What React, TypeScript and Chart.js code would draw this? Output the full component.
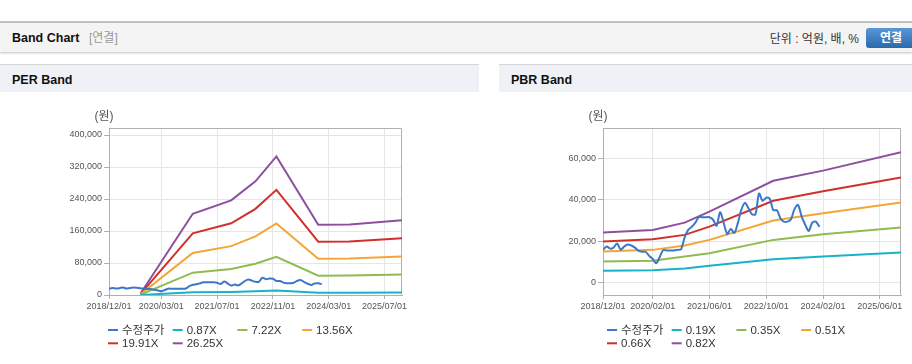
import React, { useEffect, useRef } from 'react';
import { Chart, registerables } from 'chart.js';

Chart.register(...registerables);

// ---------- data ----------
const unitLabel = '(원)';

const priceLabel = '수정주가';
const priceStart = '2018/12/01';
const priceValues = [
  15900, 17500, 16500, 17000, 19000, 16000, 17500, 18500, 18000, 17000, 15500, 15000,
  15000, 13000, 11500, 9500, 12500, 15800, 15600, 15600, 15600, 15900, 16200, 22000,
  25500, 27000, 29000, 31600, 31600, 31600, 31600, 30500, 27500, 34000, 29000, 23500,
  26000, 24000, 29000, 35000, 38500, 36000, 33000, 33000, 43000, 39500, 41000, 40500,
  35000, 35000, 31000, 29500, 29500, 30500, 35500, 37500, 32000, 28000, 25000, 29000,
  29500, 27000,
];

// PER band
const perBandLabels = ['0.87X', '7.22X', '13.56X', '19.91X', '26.25X'];
const perBandDates = ['2019/09/01', '2020/12/01', '2021/11/01', '2022/06/01', '2022/12/01', '2023/12/01', '2024/09/01', '2025/12/01'];
const per087 = [100, 6700, 7800, 9400, 11500, 5800, 5850, 6200];
const per722 = [800, 55800, 65000, 78100, 95300, 48400, 48600, 51400];
const per1356 = [1600, 104900, 122200, 146700, 179000, 90800, 91200, 96500];
const per1991 = [2300, 154000, 179400, 215400, 262800, 133300, 133900, 141600];
const per2625 = [3000, 203000, 236500, 284000, 346500, 175800, 176500, 186700];
const perXTicks = ['2018/12/01', '2020/03/01', '2021/07/01', '2022/11/01', '2024/03/01', '2025/07/01'];
const perYTicks = [0, 80000, 160000, 240000, 320000, 400000];

// PBR band
const pbrBandLabels = ['0.19X', '0.35X', '0.51X', '0.66X', '0.82X'];
const pbrBandDates = ['2018/12/01', '2020/02/01', '2020/11/01', '2021/06/01', '2022/12/01', '2024/02/01', '2025/12/01'];
const pbr019 = [5900, 6100, 7000, 8300, 11400, 12700, 14600];
const pbr035 = [10300, 10700, 12700, 14300, 20700, 23400, 26600];
const pbr051 = [15100, 15900, 18000, 20700, 30000, 33500, 38700];
const pbr066 = [19900, 21000, 23100, 27100, 39500, 44100, 50700];
const pbr082 = [24200, 25500, 29000, 34300, 49100, 54000, 62900];
const pbrXTicks = ['2018/12/01', '2020/02/01', '2021/06/01', '2022/10/01', '2024/02/01', '2025/06/01'];
const pbrYTicks = [0, 20000, 40000, 60000];

const xStart = '2018/12/01';
const xEnd = '2025/12/01';

const seriesColors = ['#3b78c8', '#19b2c9', '#8fbc4f', '#f4a535', '#d1302a', '#8d4f9f'];

// ---------- helpers ----------
const BASE = Date.UTC(2018, 11, 1);
const dayOf = (s: string) => {
  const [y, m, d] = s.split('/').map(Number);
  return (Date.UTC(y, m - 1, d) - BASE) / 86400000;
};
const monthDates = (start: string, n: number) => {
  const [y0, m0] = start.split('/').map(Number);
  const out: string[] = [];
  for (let i = 0; i < n; i++) {
    const t = m0 - 1 + i;
    const y = y0 + Math.floor(t / 12);
    const m = (t % 12) + 1;
    out.push(`${y}/${String(m).padStart(2, '0')}/01`);
  }
  return out;
};
const pts = (dates: string[], vals: number[]) => dates.map((d, i) => ({ x: dayOf(d), y: vals[i] }));

const FONT = "'Liberation Sans', 'Noto Sans CJK KR', sans-serif";

const decor = {
  id: 'decor',
  beforeDatasetsDraw(chart: any) {
    const { ctx, chartArea: a } = chart;
    ctx.save();
    ctx.strokeStyle = '#b0b0b0';
    ctx.lineWidth = 1;
    const l = Math.round(a.left) + 0.5;
    const r = Math.round(a.right) - 0.5;
    const t = Math.round(a.top) + 0.5;
    const b = Math.round(a.bottom) - 0.5;
    ctx.beginPath();
    ctx.moveTo(l, t);
    ctx.lineTo(r, t);
    ctx.lineTo(r, b);
    ctx.stroke();
    ctx.restore();
  },
  afterDraw(chart: any, _args: any, opts: any) {
    const { ctx, chartArea: a } = chart;
    ctx.save();
    ctx.font = `12px ${FONT}`;
    ctx.fillStyle = '#555';
    ctx.textAlign = 'center';
    ctx.textBaseline = 'middle';
    ctx.fillText(unitLabel, a.left - 5, a.top - 11);
    ctx.font = `11.5px ${FONT}`;
    ctx.textAlign = 'left';
    chart.data.datasets.forEach((ds: any, i: number) => {
      const col = i % 4;
      const row = Math.floor(i / 4);
      const x = opts.legendX + col * opts.colW;
      const y = opts.legendY + row * opts.rowH;
      ctx.fillStyle = ds.borderColor;
      ctx.fillRect(x, y - 1, 10, 2);
      ctx.fillStyle = '#333';
      ctx.fillText(ds.label, x + 14, y + 0.5);
    });
    ctx.restore();
  },
};

type Cfg = {
  bandLabels: string[];
  bandDates: string[];
  bands: number[][];
  xTicks: string[];
  yTicks: number[];
  yMin: number;
  yMax: number;
  yWidth: number;
  padRight: number;
  width: number;
};

function BandChart({ cfg }: { cfg: Cfg }) {
  const ref = useRef<HTMLCanvasElement>(null);
  useEffect(() => {
    if (!ref.current) return;
    const priceDates = monthDates(priceStart, priceValues.length);
    const datasets: any[] = [
      {
        label: priceLabel,
        data: pts(priceDates, priceValues),
        borderColor: seriesColors[0],
        backgroundColor: seriesColors[0],
        borderWidth: 2,
        tension: 0.3,
      },
      ...cfg.bandLabels.map((lab, i) => ({
        label: lab,
        data: pts(cfg.bandDates, cfg.bands[i]),
        borderColor: seriesColors[i + 1],
        backgroundColor: seriesColors[i + 1],
        borderWidth: 2,
        tension: 0,
      })),
    ];
    const xTickDays = cfg.xTicks.map(dayOf);
    const tickFont = { family: FONT, size: 9 };
    const chart = new Chart(ref.current, {
      type: 'line',
      data: { datasets },
      plugins: [decor as any],
      options: {
        responsive: false,
        animation: false,
        layout: { padding: { left: 0, right: cfg.padRight, top: 35, bottom: 49 } },
        elements: { point: { radius: 0 } },
        plugins: {
          legend: { display: false },
          tooltip: { enabled: false },
          decor: { legendX: 108, colW: 64.7, legendY: 237, rowH: 13.3 },
        } as any,
        scales: {
          x: {
            type: 'linear',
            min: dayOf(xStart),
            max: dayOf(xEnd),
            afterBuildTicks: (axis: any) => {
              axis.ticks = xTickDays.map((v) => ({ value: v }));
            },
            afterFit: (s: any) => {
              s.height = 20;
            },
            ticks: {
              autoSkip: false,
              maxRotation: 0,
              minRotation: 0,
              padding: 2,
              color: '#555',
              font: tickFont,
              callback: (v: any) => {
                const i = xTickDays.indexOf(Number(v));
                return i >= 0 ? cfg.xTicks[i] : '';
              },
            },
            grid: { color: '#e6e6e6', tickLength: 4, tickColor: '#b0b0b0' },
            border: { color: '#b0b0b0' },
          },
          y: {
            min: cfg.yMin,
            max: cfg.yMax,
            afterBuildTicks: (axis: any) => {
              axis.ticks = cfg.yTicks.map((v) => ({ value: v }));
            },
            afterFit: (s: any) => {
              s.width = cfg.yWidth;
            },
            ticks: {
              padding: 2,
              color: '#555',
              font: tickFont,
              callback: (v: any) => Number(v).toLocaleString('en-US'),
            },
            grid: { color: '#e6e6e6', tickLength: 5, tickColor: '#b0b0b0' },
            border: { color: '#b0b0b0' },
          },
        } as any,
      },
    });
    return () => chart.destroy();
  }, [cfg]);
  return <canvas ref={ref} width={cfg.width} height={271} style={{ display: 'block', width: cfg.width, height: 271 }} />;
}

const perCfg: Cfg = {
  bandLabels: perBandLabels,
  bandDates: perBandDates,
  bands: [per087, per722, per1356, per1991, per2625],
  xTicks: perXTicks,
  yTicks: perYTicks,
  yMin: 0,
  yMax: 417500,
  yWidth: 109,
  padRight: 77,
  width: 479,
};

const pbrCfg: Cfg = {
  bandLabels: pbrBandLabels,
  bandDates: pbrBandDates,
  bands: [pbr019, pbr035, pbr051, pbr066, pbr082],
  xTicks: pbrXTicks,
  yTicks: pbrYTicks,
  yMin: -5800,
  yMax: 74500,
  yWidth: 104,
  padRight: 11,
  width: 413,
};

const abs = (s: React.CSSProperties): React.CSSProperties => ({ position: 'absolute', ...s });

export default function App() {
  return (
    <div style={abs({ left: 0, top: 0, width: 912, height: 364, background: '#fff', overflow: 'hidden', fontFamily: FONT })}>
      <div style={abs({ left: 0, top: 21, width: 912, height: 2, background: '#c4c4c4' })} />
      <div style={abs({ left: 0, top: 23, width: 912, height: 29, background: '#f4f4f4', boxShadow: '0 1px 2px rgba(0,0,0,0.25)' })} />
      <div style={abs({ left: 12, top: 28, lineHeight: '20px', fontSize: 12.5, fontWeight: 'bold', color: '#111' })}>Band Chart</div>
      <div style={abs({ left: 89, top: 28, lineHeight: '20px', fontSize: 12, color: '#999' })}>[연결]</div>
      <div style={abs({ right: 53, top: 29, lineHeight: '20px', fontSize: 12, color: '#333' })}>단위 : 억원, 배, %</div>
      <div
        style={abs({
          left: 866,
          top: 28,
          width: 50,
          height: 20,
          borderRadius: 3,
          background: 'linear-gradient(#5797d8, #2b69ab)',
          color: '#fff',
          fontWeight: 'bold',
          fontSize: 12,
          lineHeight: '20px',
          textAlign: 'center',
        })}
      >
        연결
      </div>

      {/* PER panel */}
      <div style={abs({ left: 0, top: 64, width: 479, height: 1, background: '#d6d6d6' })} />
      <div style={abs({ left: 0, top: 65, width: 479, height: 27, background: '#eef2f7' })} />
      <div style={abs({ left: 12, top: 70, lineHeight: '20px', fontSize: 12.5, fontWeight: 'bold', color: '#111' })}>PER Band</div>
      <div style={abs({ left: 0, top: 93 })}>
        <BandChart cfg={perCfg} />
      </div>

      {/* PBR panel */}
      <div style={abs({ left: 499, top: 64, width: 413, height: 1, background: '#d6d6d6' })} />
      <div style={abs({ left: 499, top: 65, width: 413, height: 27, background: '#eef2f7' })} />
      <div style={abs({ left: 511, top: 70, lineHeight: '20px', fontSize: 12.5, fontWeight: 'bold', color: '#111' })}>PBR Band</div>
      <div style={abs({ left: 499, top: 93 })}>
        <BandChart cfg={pbrCfg} />
      </div>
    </div>
  );
}
